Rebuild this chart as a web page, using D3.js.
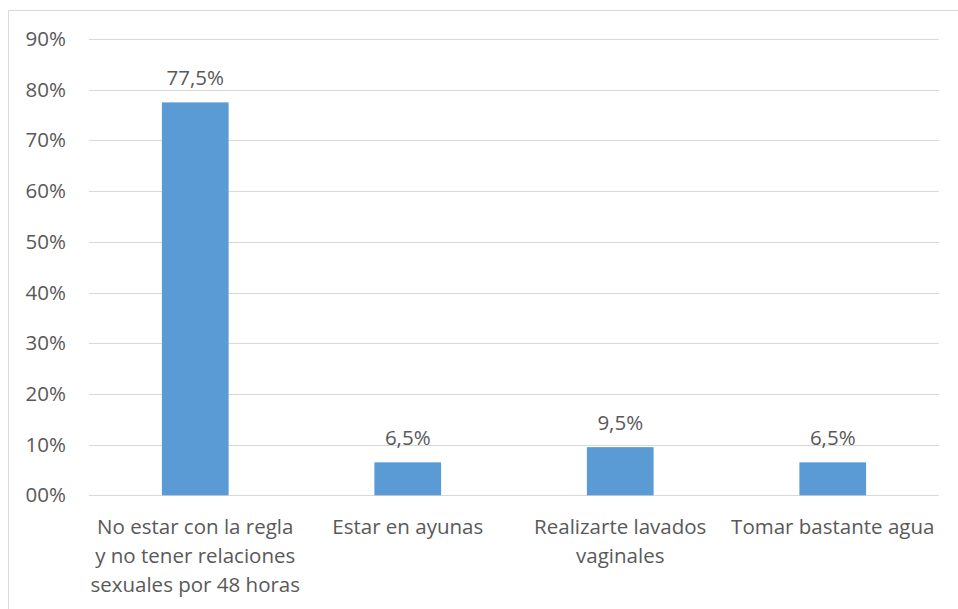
<!DOCTYPE html>
<html><head><meta charset="utf-8">
<script src="https://cdn.jsdelivr.net/npm/d3@7"></script>
<style>body{margin:0;background:#fff}svg{display:block}</style>
</head><body>
<script>
const categories = [
  ["No estar con la regla","y no tener relaciones","sexuales por 48 horas"],
  ["Estar en ayunas"],
  ["Realizarte lavados","vaginales"],
  ["Tomar bastante agua"]
];
const values = [77.5, 6.5, 9.5, 6.5];
const valueLabels = ["77,5%","6,5%","9,5%","6,5%"];
const yTicks = [0,10,20,30,40,50,60,70,80,90];
const yTickLabels = ["00%","10%","20%","30%","40%","50%","60%","70%","80%","90%"];

const W = 958, H = 609;
const svg = d3.select("body").append("svg").attr("width", W).attr("height", H);
const font = "'Open Sans', 'Segoe UI', sans-serif";
const fs = 20.5;
const textColor = "#595959";

// outer frame
svg.append("path").attr("d", `M8.5,${H+5} V10.5 H${W+5}`)
  .attr("fill","none").attr("stroke","#d9d9d9").attr("stroke-width",1);

const x = d3.scaleBand().domain(d3.range(categories.length))
  .range([89, 939]).paddingInner(0.686).paddingOuter(0.343);
const y = d3.scaleLinear().domain([0, 90]).range([495.3, 39]);

// gridlines
svg.append("g").selectAll("line").data(yTicks).join("line")
  .attr("x1", 89).attr("x2", 939)
  .attr("y1", d => Math.round(y(d)) + 0.5).attr("y2", d => Math.round(y(d)) + 0.5)
  .attr("stroke", "#d9d9d9").attr("stroke-width", 1);

// y axis labels
const yAxis = d3.axisLeft(y).tickValues(yTicks).tickFormat((d,i) => yTickLabels[i]).tickSize(0).tickPadding(0);
const gy = svg.append("g").attr("transform", "translate(66,0)").call(yAxis);
gy.select(".domain").remove();
gy.selectAll("text").attr("font-family", font).attr("font-size", fs).attr("fill", textColor);

// bars
svg.append("g").selectAll("rect").data(values).join("rect")
  .attr("x", (d,i) => x(i)).attr("width", x.bandwidth())
  .attr("y", d => y(d)).attr("height", d => y(0) - y(d))
  .attr("fill", "#5b9bd5");

// value labels
svg.append("g").selectAll("text").data(values).join("text")
  .attr("x", (d,i) => x(i) + x.bandwidth()/2)
  .attr("y", d => y(d) - 17)
  .attr("text-anchor", "middle")
  .attr("font-family", font).attr("font-size", fs).attr("fill", textColor)
  .text((d,i) => valueLabels[i]);

// category labels
const cg = svg.append("g").selectAll("text").data(categories).join("text")
  .attr("x", (d,i) => x(i) + x.bandwidth()/2)
  .attr("y", 534)
  .attr("text-anchor", "middle")
  .attr("font-family", font).attr("font-size", fs).attr("fill", textColor);
cg.selectAll("tspan").data(d => d).join("tspan")
  .attr("x", function(){ return this.parentNode.getAttribute("x"); })
  .attr("dy", (d,i) => i === 0 ? 0 : 29)
  .text(d => d);
</script>
</body></html>
